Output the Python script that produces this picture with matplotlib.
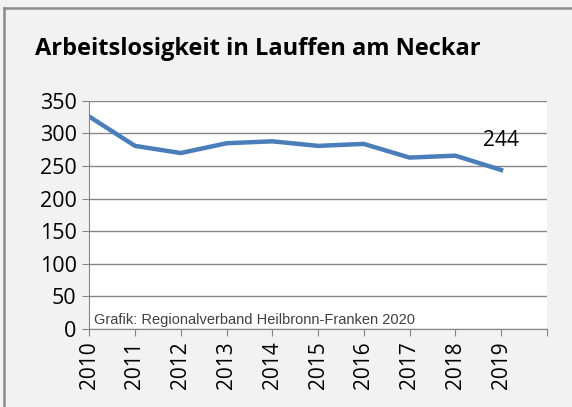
import numpy as np
import matplotlib.pyplot as plt
from matplotlib.lines import Line2D

years = ['2010', '2011', '2012', '2013', '2014', '2015', '2016', '2017', '2018', '2019']
values = [326, 281, 270, 285, 288, 281, 284, 263, 266, 244]
yticks = [0, 50, 100, 150, 200, 250, 300, 350]

plt.rcParams['font.family'] = ['Open Sans', 'DejaVu Sans']

fig = plt.figure(figsize=(5.72, 4.07), dpi=100)
fig.patch.set_facecolor('#f2f2f2')

# frame of the chart box: only top and left edges are visible
fx, fy = 4 / 572, 1 - 8 / 407
fig.lines.append(Line2D([fx, 1], [fy, fy], transform=fig.transFigure,
                        color='#8c8c8c', linewidth=1.8))
fig.lines.append(Line2D([fx, fx], [0, fy], transform=fig.transFigure,
                        color='#8c8c8c', linewidth=1.8))

ax = fig.add_axes([0.156, 0.192, 0.800, 0.560])
ax.set_facecolor('white')

x = np.arange(len(years))
ax.plot(x, values, color='#4a7ebb', linewidth=3.2, solid_joinstyle='round')

ax.set_xlim(0, len(years))
ax.set_ylim(0, 350)
ax.set_yticks(yticks)
ax.set_xticks(np.arange(len(years) + 1))
ax.set_xticklabels(years + [''], rotation=90, fontsize=15)
ax.tick_params(axis='y', labelsize=15.5, length=5, color='#868686', pad=4)
ax.tick_params(axis='x', length=5, color='#868686', pad=4)

ax.grid(axis='y', color='#868686', linewidth=1)
ax.set_axisbelow(True)
for s in ['top', 'right']:
    ax.spines[s].set_visible(False)
ax.spines['left'].set_color('#868686')
ax.spines['bottom'].set_color('#868686')

ax.annotate(str(values[-1]), (x[-1], values[-1]), xytext=(0, 14),
            textcoords='offset points', ha='center', va='bottom', fontsize=15)

ax.text(0.1, 13, 'Grafik: Regionalverband Heilbronn-Franken 2020',
        fontsize=10.5, color='#404040', family='Liberation Sans', va='center')

fig.text(0.061, 0.88, 'Arbeitslosigkeit in Lauffen am Neckar',
         fontsize=17, fontweight='bold', va='center')

fig.savefig('out.png', dpi=100, facecolor=fig.get_facecolor())
